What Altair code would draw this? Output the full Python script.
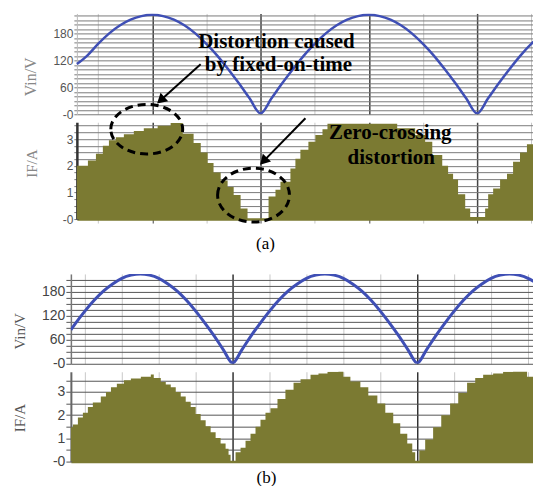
import altair as alt
import pandas as pd

# ---------------- data (time in ms) ----------------
# (a) input voltage
t_va = [1.52, 2.0, 2.5, 3.0, 3.5, 4.0, 4.5, 5.0, 5.5, 6.0, 6.5, 7.0, 7.5, 8.0, 8.5, 9.0, 9.5,
        10.0, 10.5, 11.0, 11.5, 12.0, 12.5, 13.0, 13.5, 14.0, 14.5, 15.0, 15.5, 16.0, 16.5,
        17.0, 17.5, 18.0, 18.5, 19.0, 19.5, 20.0, 20.5, 21.0, 21.5, 22.0, 22.5, 22.95]
v_va = [112, 131, 157, 180, 198, 211, 219, 222, 219, 211, 198, 180, 157, 131, 101, 69, 35,
        2, 35, 69, 101, 131, 157, 180, 198, 211, 219, 222, 219, 211, 198,
        180, 157, 131, 101, 69, 35, 2, 35, 69, 101, 131, 157, 176]
# (a) inductor current (staircase)
t_ia = [1.52, 2.03, 2.40, 2.72, 3.00, 3.32, 3.69, 4.15, 4.61, 5.25, 5.85, 6.41, 6.91, 7.24,
        7.56, 7.83, 8.16, 8.48, 8.76, 9.08, 9.40, 10.37, 10.69, 10.92, 11.38, 11.61, 11.84,
        12.21, 12.53, 12.86, 13.09, 16.31, 17.14, 17.60, 17.93, 18.39, 18.66, 18.89, 19.12,
        19.45, 19.68, 20.37, 20.51, 20.74, 21.06, 21.38, 21.66, 21.98, 22.30, 22.63, 22.95]
i_ia = [2.0, 2.2, 2.45, 2.75, 2.95, 3.07, 3.18, 3.3, 3.4, 3.5, 3.6, 3.2, 2.85, 2.5,
        2.1, 1.75, 1.45, 1.2, 0.9, 0.4, 0.0, 0.85, 1.1, 1.4, 1.9, 2.26, 2.6,
        2.9, 3.15, 3.37, 3.57, 3.4, 3.15, 2.9, 2.4, 2.0, 1.7, 1.48, 0.93,
        0.4, 0.08, 0.4, 0.93, 1.15, 1.48, 1.7, 2.15, 2.5, 2.8, 3.0, 3.0]
# (b) input voltage
t_vb = [1.24, 1.5, 2.0, 2.5, 3.0, 3.5, 4.0, 4.5, 5.0, 5.5, 6.0, 6.5, 7.0, 7.5, 8.0, 8.5, 9.0,
        9.5, 10.0, 10.5, 11.0, 11.5, 12.0, 12.5, 13.0, 13.5, 14.0, 14.5, 15.0, 15.5, 16.0,
        16.5, 17.0, 17.5, 18.0, 18.5, 19.0, 19.5, 20.0, 20.5, 21.0, 21.5, 22.0, 22.5, 23.0,
        23.5, 24.0, 24.5, 25.0, 25.5, 26.0, 26.5, 26.7]
v_vb = [85, 102, 132, 159, 182, 200, 214, 222, 225, 222, 214, 200, 182, 159, 132, 102, 70,
        35, 2, 35, 70, 102, 132, 159, 182, 200, 214, 222, 225, 222, 214,
        200, 182, 159, 132, 102, 70, 35, 2, 35, 70, 102, 132, 159, 182,
        200, 214, 222, 225, 222, 214, 200, 192]
# (b) inductor current (staircase)
t_ib = [1.24, 1.35, 1.62, 1.89, 2.16, 2.43, 2.86, 3.14, 3.41, 3.73, 4.11, 4.49, 5.03, 5.57,
        5.73, 6.11, 6.38, 6.65, 6.92, 7.19, 7.46, 7.73, 8.0, 8.27, 8.54, 8.81, 9.08, 9.35,
        9.62, 9.78, 9.89, 10.16, 10.43, 10.70, 10.97, 11.24, 11.51, 11.78, 12.05, 12.43,
        12.86, 13.30, 13.68, 14.22, 14.65, 15.14, 15.73, 16.0, 16.38, 16.92, 17.35, 17.84,
        18.27, 18.70, 19.08, 19.46, 19.73, 19.89, 20.11, 20.43, 20.86, 21.30, 21.78, 22.22,
        22.70, 23.14, 23.57, 24.11, 24.65, 25.19, 25.73, 25.95, 26.32, 26.70]
i_ib = [1.48, 1.6, 1.9, 2.1, 2.35, 2.55, 2.8, 3.0, 3.2, 3.35, 3.5, 3.58, 3.65, 3.75,
        3.6, 3.43, 3.32, 3.2, 3.0, 2.8, 2.58, 2.35, 2.05, 1.78, 1.52, 1.26, 1.02, 0.78,
        0.55, 0.3, 0.0, 0.4, 0.6, 0.9, 1.2, 1.5, 1.8, 2.1, 2.3, 2.7,
        3.1, 3.4, 3.55, 3.74, 3.8, 3.87, 3.9, 3.65, 3.45, 3.2, 2.85, 2.5,
        2.1, 1.65, 1.2, 0.78, 0.4, 0.0, 0.48, 0.95, 1.48, 2.0, 2.5, 2.95,
        3.4, 3.6, 3.74, 3.8, 3.87, 3.9, 3.95, 3.65, 3.55, 3.5]

# axis tick values
vgrid_a = [2.5, 5, 7.5, 10, 12.5, 15, 17.5, 20, 22.5]
vgrid_b = [2, 4, 6, 8, 10, 12, 14, 16, 18, 20, 22, 24, 26]
vin_ticks_a = list(range(0, 221, 10))
if_ticks_a = [0, 0.25, 0.5, 0.75, 1, 1.25, 1.5, 1.75, 2, 2.25, 2.5, 2.75, 3, 3.25, 3.5]
vin_ticks_b = list(range(0, 211, 15))
if_ticks_b = [0, 0.5, 1, 1.5, 2, 2.5, 3, 3.5]

# ---------------- styles ----------------
BLUE = "#3f4fb5"
OLIVE = "#7b7a32"
SANS = "Liberation Sans"
SERIF = "Liberation Serif"
W = 463

df_va = pd.DataFrame({"t": t_va, "v": v_va})
df_ia = pd.DataFrame({"t": t_ia, "i": i_ia})
df_vb = pd.DataFrame({"t": t_vb, "v": v_vb})
df_ib = pd.DataFrame({"t": t_ib, "i": i_ib})
one = pd.DataFrame({"k": [0]})


def x_axis(values, mod, dark, light, ticks=False, base=False):
    return alt.Axis(values=values, labels=False, ticks=ticks, tickSize=4,
                    domain=base, domainColor=OLIVE, domainWidth=2.5,
                    grid=True, title=None,
                    gridColor={"condition": {"test": f"datum.value % {mod} === 0", "value": dark}, "value": light},
                    gridWidth={"condition": {"test": f"datum.value % {mod} === 0", "value": 1.5}, "value": 1},
                    tickColor={"condition": {"test": f"datum.value % {mod} === 0", "value": dark}, "value": light})


def y_axis(values, labmod, title, tx, ty, offset, tsize, fsize, lcol, gcol, dcol, dwidth, tfsize, tcol):
    cond = f"datum.value % {labmod} === 0"
    expr = f"{cond} ? (datum.value === 0 ? '-0' : '' + datum.value) : ''"
    return alt.Axis(values=values, tickCount=len(values) + 1, labelExpr=expr, labelOverlap=False,
                    offset=offset, tickSize=tsize, labelPadding=1, labelFont=SANS,
                    labelFontSize={"condition": {"test": cond, "value": fsize}, "value": 0},
                    labelColor=lcol, gridColor=gcol, tickColor=gcol, domainColor=dcol,
                    domainWidth=dwidth, title=title, titleX=tx, titleY=ty, titleAngle=270,
                    titleAlign="center", titleBaseline="middle", titleFont=SERIF,
                    titleFontSize=tfsize, titleFontWeight="normal", titleColor=tcol)


def text(t, x, y, size=21, weight="bold"):
    return alt.Chart(one).mark_text(text=t, font=SERIF, fontWeight=weight, fontSize=size,
                                    align="center", baseline="alphabetic", color="black").encode(
        x=alt.value(x), y=alt.value(y))


xa = alt.Scale(domain=[1.52, 22.58], range=[6, W], nice=False, zero=False)
xb = alt.Scale(domain=[1.24, 26.27], nice=False, zero=False)

# ---- (a) Vin ----
va_line = alt.Chart(df_va).mark_line(color=BLUE, strokeWidth=2.5, interpolate="monotone", clip=True).encode(
    x=alt.X("t:Q", scale=xa, axis=x_axis(vgrid_a, 5, "#444", "#c8c8c8")),
    y=alt.Y("v:Q", scale=alt.Scale(domain=[0, 225], nice=False),
            axis=y_axis(vin_ticks_a, 60, "Vin/V", -46, 63, -6, 3, 12, "#555", "#7a7a7a", "#bbb", 1, 16, "#888")),
)
edge = alt.Chart(one).mark_rule(color="white", strokeWidth=1).encode(
    x=alt.value(-62), y=alt.value(-4), y2=alt.value(0))
arr1 = alt.Chart(one).mark_rule(color="black", strokeWidth=2).encode(
    x=alt.value(130), y=alt.value(51), x2=alt.value(91), y2=alt.value(86))
head1 = alt.Chart(one).mark_point(shape="triangle-up", filled=True, color="black", opacity=1,
                                  size=130, angle=228).encode(x=alt.value(90), y=alt.value(87))
panel_va = alt.layer(va_line, edge, text("Distortion caused", 206, 35),
                     text("by fixed-on-time", 208, 58), arr1, head1).properties(width=W, height=101)

# ---- (a) IF ----
ELL1 = "M -1 0 A 1 0.69 0 1 1 1 0 A 1 0.69 0 1 1 -1 0 Z"
ELL2 = "M -1 0 A 1 0.75 0 1 1 1 0 A 1 0.75 0 1 1 -1 0 Z"
ia_area = alt.Chart(df_ia).mark_area(color=OLIVE, opacity=1, interpolate="step-after", clip=True).encode(
    x=alt.X("t:Q", scale=xa, axis=x_axis(vgrid_a, 5, "#444", "#c8c8c8", ticks=True, base=True)),
    y=alt.Y("i:Q", scale=alt.Scale(domain=[0, 3.63], nice=False), stack=None,
            axis=y_axis(if_ticks_a, 1, "IF/A", -45, 41, -6, 3, 12, "#555", "#7a7a7a", "#333", 2.5, 15, "#888")),
)
ell1 = alt.Chart(one).mark_point(shape=ELL1, size=5184, filled=False, stroke="black", strokeWidth=3,
                                 strokeDash=[8, 5], opacity=1).encode(x=alt.value(76), y=alt.value(7))
ell2 = alt.Chart(one).mark_point(shape=ELL2, size=5184, filled=False, stroke="black", strokeWidth=3,
                                 strokeDash=[8, 5], opacity=1).encode(x=alt.value(183), y=alt.value(73))
arr2 = alt.Chart(one).mark_rule(color="black", strokeWidth=2).encode(
    x=alt.value(235), y=alt.value(-4), x2=alt.value(195), y2=alt.value(37))
head2 = alt.Chart(one).mark_point(shape="triangle-up", filled=True, color="black", opacity=1,
                                  size=130, angle=224).encode(x=alt.value(193), y=alt.value(39))
panel_ia = alt.layer(ia_area, ell1, ell2, text("Zero-crossing", 320, 17),
                     text("distortion", 321, 42), arr2, head2).properties(width=W, height=97)

# ---- caption (a) spacer ----
spacer = alt.Chart(one).mark_text(text="(a)", font=SERIF, fontSize=17, align="center",
                                  baseline="middle", color="black").encode(
    x=alt.value(195), y=alt.value(17)).properties(width=W, height=39)

# ---- (b) Vin ----
vb_line = alt.Chart(df_vb).mark_line(color=BLUE, strokeWidth=3, interpolate="monotone", clip=True).encode(
    x=alt.X("t:Q", scale=xb, axis=x_axis(vgrid_b, 10, "#333", "#c8c8c8")),
    y=alt.Y("v:Q", scale=alt.Scale(domain=[0, 225], nice=False),
            axis=y_axis(vin_ticks_b, 60, "Vin/V", -51, 57, 0, 5, 14, "#444", "#555", "#777", 1.5, 15, "#555")),
)
panel_vb = alt.layer(vb_line).properties(width=W, height=90)

# ---- (b) IF ----
ib_area = alt.Chart(df_ib).mark_area(color=OLIVE, opacity=1, interpolate="step-after", clip=True).encode(
    x=alt.X("t:Q", scale=xb, axis=x_axis(vgrid_b, 10, "#333", "#c8c8c8", base=True)),
    y=alt.Y("i:Q", scale=alt.Scale(domain=[0, 3.87], nice=False), stack=None,
            axis=y_axis(if_ticks_b, 1, "IF/A", -51, 46, 0, 5, 14, "#444", "#555", "#666", 2, 15, "#555")),
)
cap_b = alt.Chart(one).mark_text(text="(b)", font=SERIF, fontSize=17, align="center",
                                 baseline="middle", color="black").encode(x=alt.value(196), y=alt.value(106))
panel_ib = alt.layer(ib_area, cap_b).properties(width=W, height=90)

chart = alt.vconcat(panel_va, panel_ia, spacer, panel_vb, panel_ib, spacing=8, bounds="flush").properties(
    padding={"left": 0, "top": 0, "right": 0, "bottom": 0}
).configure_view(stroke=None)

chart.save("out.html", embed_options={"renderer": "svg", "actions": False})
